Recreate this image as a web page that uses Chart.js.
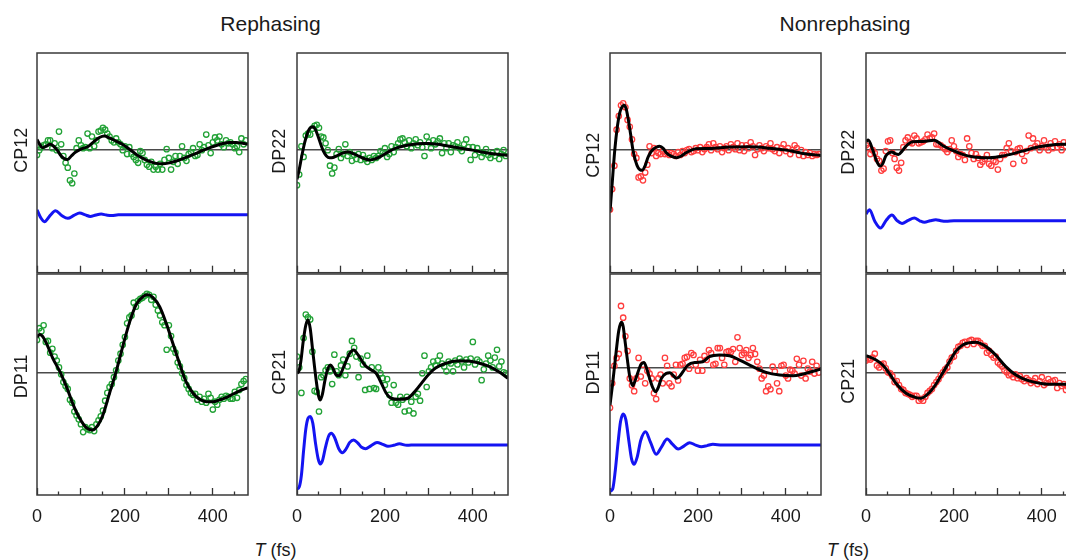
<!DOCTYPE html>
<html>
<head>
<meta charset="utf-8">
<title>Rephasing / Nonrephasing beating signals</title>
<script src="https://cdn.jsdelivr.net/npm/chart.js@4.4.1/dist/chart.umd.min.js"></script>
<style>
  html, body { margin: 0; padding: 0; width: 1066px; height: 560px; overflow: hidden; background: #fff; }
  #stage { position: relative; width: 1066px; height: 560px; overflow: hidden;
           font-family: 'Liberation Sans', Arial, Helvetica, sans-serif; color: #1a1a1a; }
  #stage canvas { position: absolute; }
  .heading { position: absolute; font-size: 21px; line-height: 21px; white-space: nowrap; transform: translateX(-50%); }
  .xtitle  { position: absolute; font-size: 18px; line-height: 18px; white-space: nowrap; transform: translateX(-50%); }
</style>
</head>
<body>
<div id="stage">
  <div class="heading" style="left:270.5px; top:13px;">Rephasing</div>
  <div class="heading" style="left:845px; top:13px;">Nonrephasing</div>
  <div class="xtitle" style="left:275.5px; top:541px;"><i>T</i> (fs)</div>
  <div class="xtitle" style="left:848px; top:541px;"><i>T</i> (fs)</div>
</div>
<script>
// ---- waiting times (fs) of the measured points ----
const T_DATA = [
  0, 5, 10, 15, 20, 25, 30, 35, 40, 45,
  50, 55, 60, 65, 70, 75, 80, 85, 90, 95,
  100, 105, 110, 115, 120, 125, 130, 135, 140, 145,
  150, 155, 160, 165, 170, 175, 180, 185, 190, 195,
  200, 205, 210, 215, 220, 225, 230, 235, 240, 245,
  250, 255, 260, 265, 270, 275, 280, 285, 290, 295,
  300, 305, 310, 315, 320, 325, 330, 335, 340, 345,
  350, 355, 360, 365, 370, 375, 380, 385, 390, 395,
  400, 405, 410, 415, 420, 425, 430, 435, 440, 445,
  450, 455, 460, 465, 470, 475
];

// ---- measured amplitudes (normalised) ----
const repCP12Data = [
  -0.05, 0.00, 0.03, 0.05, 0.06, 0.10, 0.10, 0.02, 0.07, 0.00,
  0.19, 0.06, -0.06, -0.13, -0.18, -0.31, -0.34, -0.24, 0.02, 0.10,
  0.05, 0.02, 0.03, 0.17, 0.02, 0.14, 0.04, 0.10, 0.19, 0.20,
  0.23, 0.21, 0.17, 0.14, 0.10, 0.08, 0.12, 0.08, 0.06, 0.00,
  0.04, -0.04, 0.03, -0.04, -0.07, -0.10, -0.13, -0.01, -0.03, -0.10,
  -0.15, -0.17, -0.12, -0.20, -0.17, -0.20, -0.14, -0.20, -0.10, 0.01,
  -0.08, -0.20, -0.12, -0.06, -0.14, -0.06, 0.04, -0.08, -0.11, -0.04,
  -0.02, 0.02, -0.06, -0.05, 0.06, 0.00, 0.03, 0.16, 0.05, -0.03,
  0.08, 0.13, 0.10, 0.14, 0.06, 0.03, 0.10, 0.07, 0.08, 0.06,
  0.02, 0.04, -0.02, 0.12, 0.06, 0.10
];
const repDP22Data = [
  -0.36, -0.25, 0.04, -0.07, 0.15, 0.17, 0.16, 0.22, 0.25, 0.26,
  0.23, 0.14, 0.13, 0.07, 0.00, -0.16, -0.24, -0.18, -0.04, 0.01,
  -0.08, -0.04, 0.06, -0.06, -0.02, -0.11, -0.05, -0.09, -0.04, -0.10,
  -0.05, -0.09, -0.12, -0.08, -0.10, -0.06, -0.08, -0.06, -0.01, -0.03,
  0.02, -0.07, -0.04, 0.04, -0.02, 0.03, 0.07, 0.11, 0.12, 0.08,
  0.04, 0.10, 0.02, 0.07, 0.11, 0.05, 0.08, 0.03, -0.06, 0.14,
  0.08, 0.02, 0.10, 0.06, 0.09, 0.12, -0.03, 0.07, 0.02, 0.07,
  -0.02, 0.05, 0.04, 0.08, 0.02, -0.01, 0.06, 0.11, 0.03, -0.10,
  0.03, -0.05, 0.02, -0.02, -0.07, -0.03, 0.01, -0.05, -0.08, -0.03,
  -0.06, -0.01, -0.09, -0.04, 0.00, -0.06
];
const repDP11Data = [
  0.33, 0.45, 0.42, 0.48, 0.31, 0.32, 0.20, 0.24, 0.16, 0.12,
  0.05, -0.02, -0.10, -0.14, -0.17, -0.28, -0.31, -0.40, -0.44, -0.48,
  -0.53, -0.61, -0.56, -0.58, -0.59, -0.56, -0.60, -0.53, -0.49, -0.45,
  -0.39, -0.29, -0.21, -0.15, -0.12, -0.05, 0.02, 0.12, 0.19, 0.28,
  0.36, 0.50, 0.56, 0.58, 0.71, 0.67, 0.73, 0.75, 0.76, 0.78,
  0.80, 0.79, 0.74, 0.77, 0.69, 0.63, 0.58, 0.51, 0.48, 0.23,
  0.48, 0.37, 0.24, 0.20, 0.10, 0.06, -0.01, -0.06, -0.13, -0.17,
  -0.21, -0.23, -0.22, -0.28, -0.25, -0.30, -0.27, -0.31, -0.22, -0.26,
  -0.38, -0.30, -0.33, -0.28, -0.25, -0.27, -0.24, -0.25, -0.27, -0.27,
  -0.20, -0.26, -0.18, -0.12, -0.09, -0.07
];
const repCP21Data = [
  0.16, 0.05, -0.21, 0.35, 0.59, 0.56, 0.54, 0.21, -0.19, -0.20,
  -0.40, -0.05, -0.03, 0.02, 0.05, 0.01, -0.12, 0.18, 0.01, -0.03,
  0.07, 0.13, -0.03, 0.06, 0.19, 0.32, 0.25, 0.16, -0.05, 0.14,
  0.08, -0.18, 0.17, -0.17, 0.05, -0.16, -0.17, 0.05, -0.01, -0.06,
  -0.13, -0.07, -0.23, -0.31, -0.13, -0.31, -0.33, -0.25, -0.28, -0.40,
  -0.25, -0.39, -0.30, -0.42, -0.25, -0.22, -0.29, -0.01, 0.17, -0.15,
  0.01, 0.05, 0.11, 0.07, 0.12, 0.17, 0.09, 0.06, 0.01, 0.11,
  0.09, 0.01, 0.12, 0.08, 0.14, 0.11, 0.05, 0.13, 0.10, 0.14,
  0.31, 0.08, 0.13, 0.11, -0.08, 0.03, 0.09, 0.17, 0.12, 0.05,
  0.15, 0.23, 0.06, 0.11, 0.00, -0.01
];
const nrCP12Data = [
  -0.61, -0.40, -0.16, 0.21, 0.35, 0.46, 0.48, 0.44, 0.31, 0.24,
  0.11, -0.04, -0.08, -0.28, -0.27, -0.31, -0.23, -0.15, 0.04, -0.03,
  0.02, -0.06, -0.03, -0.04, -0.01, -0.04, -0.03, -0.05, -0.03, -0.04,
  -0.06, -0.02, -0.05, -0.01, -0.03, 0.00, 0.01, -0.02, -0.01, 0.02,
  0.00, 0.03, -0.02, 0.01, 0.03, 0.06, 0.00, 0.07, 0.03, 0.01,
  0.04, -0.02, 0.02, 0.04, 0.00, 0.06, 0.03, 0.01, 0.07, 0.00,
  0.05, -0.01, 0.05, 0.02, 0.08, 0.04, -0.05, 0.01, 0.05, 0.02,
  -0.01, 0.04, 0.02, 0.07, 0.01, -0.01, 0.03, -0.03, 0.02, 0.06,
  -0.01, 0.02, -0.04, 0.00, 0.05, 0.02, -0.05, 0.00, -0.06, -0.02,
  -0.05, -0.03, -0.06, -0.04, -0.05, -0.04
];
const nrDP22Data = [
  0.05, 0.02, -0.04, 0.00, -0.03, -0.09, -0.11, -0.21, -0.19, -0.01,
  0.09, 0.10, -0.03, -0.09, -0.18, -0.21, -0.13, 0.03, 0.10, 0.13,
  0.08, 0.07, 0.15, 0.12, 0.07, 0.08, 0.09, 0.11, 0.16, 0.12,
  0.13, 0.17, 0.06, 0.06, 0.05, 0.03, 0.01, -0.02, 0.01, 0.10,
  0.04, -0.01, -0.07, -0.04, -0.05, -0.10, 0.12, 0.04, -0.03, -0.09,
  -0.04, -0.08, -0.15, -0.12, -0.09, -0.05, -0.14, -0.16, -0.11, -0.12,
  -0.20, -0.09, -0.05, -0.05, 0.02, 0.07, -0.01, -0.14, -0.02, 0.01,
  0.02, -0.04, -0.11, -0.01, 0.15, 0.02, 0.12, 0.04, 0.07, 0.00,
  0.04, 0.10, 0.03, 0.00, 0.07, 0.02, 0.09, 0.03, 0.06, 0.00,
  0.08, 0.04, 0.07, 0.05, 0.03, 0.06
];
const nrDP11Data = [
  -0.41, -0.16, 0.02, 0.10, 0.14, 0.63, 0.51, 0.32, 0.17, -0.11,
  -0.18, -0.24, -0.11, 0.10, -0.09, 0.03, -0.16, -0.03, -0.06, -0.11,
  -0.26, -0.32, -0.11, -0.07, -0.16, 0.10, 0.02, -0.16, -0.19, -0.07,
  0.03, -0.13, 0.03, 0.04, 0.10, 0.11, -0.01, 0.15, 0.13, 0.03,
  -0.03, 0.08, -0.03, 0.12, 0.08, 0.18, 0.15, 0.03, 0.04, 0.20,
  0.20, 0.10, 0.03, 0.16, 0.17, 0.16, 0.19, 0.06, 0.31, 0.20,
  0.13, 0.15, 0.18, 0.10, 0.13, 0.20, 0.14, 0.06, -0.01, -0.11,
  -0.08, -0.24, -0.19, -0.22, 0.01, -0.04, -0.16, -0.24, 0.02, 0.03,
  -0.08, -0.11, -0.02, -0.03, -0.06, 0.09, 0.03, -0.08, 0.07, -0.11,
  -0.01, -0.04, 0.06, -0.06, 0.02, -0.05
];
const nrCP21Data = [
  0.12, 0.14, 0.13, 0.15, 0.19, 0.07, 0.05, 0.08, 0.09, 0.04,
  0.00, -0.01, -0.04, -0.10, -0.09, -0.13, -0.17, -0.18, -0.21, -0.22,
  -0.23, -0.25, -0.24, -0.24, -0.29, -0.27, -0.29, -0.25, -0.21, -0.19,
  -0.17, -0.13, -0.10, -0.07, -0.03, 0.00, 0.03, 0.05, 0.11, 0.15,
  0.16, 0.22, 0.26, 0.27, 0.30, 0.31, 0.28, 0.32, 0.33, 0.29,
  0.32, 0.32, 0.30, 0.27, 0.27, 0.20, 0.22, 0.18, 0.15, 0.16,
  0.10, 0.08, 0.06, 0.02, 0.00, -0.03, -0.02, -0.05, -0.02, -0.06,
  -0.04, -0.07, -0.09, -0.06, -0.08, -0.11, -0.09, -0.06, -0.12, -0.09,
  -0.05, -0.13, -0.11, -0.07, -0.10, -0.09, -0.08, -0.16, -0.11, -0.14,
  -0.12, -0.18, -0.15, -0.11, -0.13, -0.12
];

// ---- fitted curves, [T, amplitude] knots ----
const repCP12Fit = [[0,0.11],[6,0.06],[13,0.025],[21,0.04],[30,0.06],[38,0.04],[46,0.0],[55,-0.06],[63,-0.09],[70,-0.095],[78,-0.06],[88,-0.02],[100,0.01],[115,0.035],[130,0.09],[142,0.13],[153,0.145],[165,0.125],[180,0.092],[195,0.058],[211,0.007],[226,-0.044],[241,-0.085],[256,-0.116],[271,-0.136],[286,-0.14],[302,-0.13],[317,-0.112],[332,-0.088],[347,-0.061],[362,-0.034],[377,-0.003],[392,0.024],[408,0.048],[423,0.068],[438,0.078],[453,0.078],[468,0.071],[480,0.061]];
const repDP22Fit = [[0,-0.30],[5,-0.20],[10,-0.08],[15,0.03],[20,0.12],[26,0.20],[32,0.235],[37,0.24],[42,0.21],[48,0.14],[54,0.06],[60,-0.01],[67,-0.06],[74,-0.078],[82,-0.075],[92,-0.055],[104,-0.03],[116,-0.02],[128,-0.035],[142,-0.065],[155,-0.09],[165,-0.10],[178,-0.09],[192,-0.06],[207,-0.02],[225,0.02],[245,0.045],[265,0.06],[285,0.068],[300,0.068],[320,0.06],[340,0.045],[360,0.03],[380,0.015],[400,0.0],[420,-0.02],[440,-0.035],[460,-0.045],[480,-0.054]];
const repDP11Fit = [[0,0.36],[6,0.385],[12,0.37],[21,0.30],[36,0.143],[52,0.007],[67,-0.146],[82,-0.327],[97,-0.47],[112,-0.565],[126,-0.59],[139,-0.537],[150,-0.435],[165,-0.214],[180,0.007],[195,0.262],[211,0.517],[226,0.694],[241,0.772],[252,0.79],[264,0.762],[279,0.67],[294,0.50],[309,0.296],[324,0.092],[339,-0.095],[355,-0.214],[370,-0.276],[385,-0.30],[400,-0.30],[415,-0.282],[430,-0.259],[445,-0.224],[461,-0.19],[480,-0.156]];
const repCP21Fit = [[0,-0.01],[5,0.02],[9,0.12],[14,0.31],[20,0.48],[25,0.534],[30,0.45],[36,0.21],[44,-0.095],[49,-0.24],[53,-0.282],[58,-0.22],[63,-0.095],[69,0.02],[76,0.075],[82,0.04],[89,-0.027],[96,-0.034],[102,0.01],[108,0.075],[120,0.194],[129,0.228],[139,0.177],[154,0.075],[169,0.024],[180,-0.01],[192,-0.112],[203,-0.214],[214,-0.265],[233,-0.276],[252,-0.265],[271,-0.18],[286,-0.095],[302,-0.01],[317,0.048],[339,0.092],[362,0.116],[389,0.116],[415,0.092],[438,0.058],[461,0.0],[480,-0.061]];
const nrCP12Fit = [[0,-0.63],[4,-0.40],[11,0.007],[17,0.25],[22,0.38],[27,0.44],[32,0.46],[37,0.42],[41,0.33],[47,0.16],[52,0.007],[58,-0.11],[64,-0.18],[73,-0.207],[80,-0.16],[86,-0.078],[92,-0.025],[98,0.007],[105,0.03],[113,0.041],[121,0.02],[128,-0.027],[140,-0.065],[151,-0.078],[162,-0.06],[173,-0.027],[185,0.0],[196,0.014],[226,0.017],[272,0.031],[317,0.034],[363,0.02],[401,0.0],[439,-0.034],[480,-0.055]];
const nrDP22Fit = [[0,0.09],[5,0.105],[15,0.007],[24,-0.11],[32,-0.163],[38,-0.14],[45,-0.06],[52,-0.03],[59,-0.02],[66,-0.035],[74,-0.044],[82,-0.01],[91,0.04],[106,0.085],[121,0.088],[136,0.092],[155,0.102],[174,0.048],[197,-0.003],[220,-0.044],[242,-0.068],[280,-0.078],[318,-0.054],[356,-0.01],[394,0.034],[432,0.058],[455,0.061],[480,0.062]];
const nrDP11Fit = [[0,-0.381],[5,-0.20],[10,0.0],[14,0.163],[20,0.38],[26,0.463],[30,0.42],[33,0.316],[39,0.10],[45,-0.092],[52,-0.184],[58,-0.12],[64,-0.041],[70,0.03],[77,0.054],[83,0.0],[90,-0.109],[97,-0.2],[104,-0.245],[110,-0.2],[117,-0.109],[128,-0.058],[136,-0.052],[144,-0.08],[151,-0.109],[158,-0.09],[166,-0.041],[177,0.027],[196,0.054],[211,0.061],[226,0.112],[249,0.129],[272,0.122],[295,0.078],[325,0.01],[355,-0.048],[386,-0.075],[416,-0.082],[439,-0.065],[480,-0.014]];
const nrCP21Fit = [[0,0.17],[23,0.126],[38,0.075],[53,-0.01],[68,-0.112],[91,-0.214],[114,-0.258],[125,-0.265],[144,-0.207],[159,-0.122],[174,-0.01],[189,0.102],[205,0.218],[220,0.279],[250,0.306],[273,0.262],[295,0.177],[318,0.058],[341,-0.027],[371,-0.088],[402,-0.116],[432,-0.122],[455,-0.122],[480,-0.12]];

// ---- simulated oscillatory components (drawn with their baseline offset) ----
const repCP12Sim = [[0,-0.612],[8,-0.69],[17,-0.735],[30,-0.67],[42,-0.622],[56,-0.67],[70,-0.70],[84,-0.67],[97,-0.646],[110,-0.665],[121,-0.68],[134,-0.665],[146,-0.656],[158,-0.666],[170,-0.672],[185,-0.663],[480,-0.663]];
const repCP21Sim = [[0,-1.19],[5,-1.17],[10,-1.05],[15,-0.80],[20,-0.58],[25,-0.47],[30,-0.452],[36,-0.52],[42,-0.72],[48,-0.88],[53,-0.935],[58,-0.90],[65,-0.76],[72,-0.65],[78,-0.622],[85,-0.66],[95,-0.78],[103,-0.82],[112,-0.78],[120,-0.715],[129,-0.69],[138,-0.72],[147,-0.765],[156,-0.779],[168,-0.75],[182,-0.717],[195,-0.735],[207,-0.755],[220,-0.745],[233,-0.73],[250,-0.745],[270,-0.741],[480,-0.741]];
const nrDP22Sim = [[0,-0.656],[8,-0.612],[20,-0.73],[33,-0.80],[46,-0.72],[59,-0.667],[70,-0.72],[82,-0.752],[96,-0.72],[110,-0.697],[122,-0.725],[133,-0.741],[146,-0.725],[159,-0.714],[170,-0.725],[182,-0.731],[200,-0.724],[480,-0.724]];
const nrDP11Sim = [[0,-1.26],[6,-1.24],[12,-1.05],[18,-0.78],[24,-0.55],[30,-0.473],[36,-0.53],[43,-0.75],[49,-0.93],[55,-0.986],[62,-0.91],[70,-0.74],[81,-0.653],[92,-0.76],[105,-0.884],[117,-0.81],[130,-0.728],[142,-0.78],[155,-0.83],[168,-0.80],[181,-0.765],[195,-0.79],[208,-0.806],[221,-0.795],[234,-0.782],[255,-0.79],[480,-0.789]];

// ---- x-axis ticks ----
const MAJOR_TICKS = [0, 100, 200, 300, 400];
const MINOR_TICKS = [50, 150, 250, 350, 450];
const LABELLED_TICKS = [0, 200, 400];

// ---- styling / layout ----
const GREEN = '#22a236';
const RED = '#ff3d3d';
const BLUE = '#1414f2';
const FONT = "'Liberation Sans', Arial, Helvetica, sans-serif";
const COL_X = [37, 297, 610, 866];
const ROW_Y = [53, 274];
const PLOT_W = 211, PLOT_H = 221, AXIS_W = 36, PAD = 6;

const PANELS = [
  { label: 'CP12', col: 0, row: 0, pts: repCP12Data, fit: repCP12Fit, sim: repCP12Sim, color: GREEN, yMin: -1.258, yMax: 0.997, shift: 0, gap: 15 },
  { label: 'DP22', col: 1, row: 0, pts: repDP22Data, fit: repDP22Fit, sim: null,       color: GREEN, yMin: -1.258, yMax: 0.997, shift: 1, gap: 17 },
  { label: 'DP11', col: 0, row: 1, pts: repDP11Data, fit: repDP11Fit, sim: null,       color: GREEN, yMin: -1.252, yMax: 1.003, shift: 4, gap: 15 },
  { label: 'CP21', col: 1, row: 1, pts: repCP21Data, fit: repCP21Fit, sim: repCP21Sim, color: GREEN, yMin: -1.252, yMax: 1.003, shift: 0, gap: 17 },
  { label: 'CP12', col: 2, row: 0, pts: nrCP12Data,  fit: nrCP12Fit,  sim: null,       color: RED,   yMin: -1.258, yMax: 0.997, shift: 5, gap: 16 },
  { label: 'DP22', col: 3, row: 0, pts: nrDP22Data,  fit: nrDP22Fit,  sim: nrDP22Sim,  color: RED,   yMin: -1.258, yMax: 0.997, shift: 2, gap: 17 },
  { label: 'DP11', col: 2, row: 1, pts: nrDP11Data,  fit: nrDP11Fit,  sim: nrDP11Sim,  color: RED,   yMin: -1.299, yMax: 0.956, shift: 5, gap: 16 },
  { label: 'CP21', col: 3, row: 1, pts: nrCP21Data,  fit: nrCP21Fit,  sim: null,       color: RED,   yMin: -1.252, yMax: 1.003, shift: 9, gap: 17 }
];

Chart.defaults.font.family = FONT;
Chart.defaults.color = '#1a1a1a';

// Frame around the plot area plus the rotated panel name next to the zero line.
const panelDecor = {
  id: 'panelDecor',
  afterDraw(chart, args, opts) {
    const { ctx, chartArea: a } = chart;
    ctx.save();
    ctx.strokeStyle = '#3a3a3a';
    ctx.lineWidth = 1.5;
    ctx.strokeRect(a.left, a.top, a.right - a.left, a.bottom - a.top);
    const y = chart.scales.y.getPixelForValue(0) + opts.shift;
    ctx.translate(a.left - opts.gap, y);
    ctx.rotate(-Math.PI / 2);
    ctx.font = '18px ' + FONT;
    ctx.fillStyle = '#1a1a1a';
    ctx.textAlign = 'center';
    ctx.textBaseline = 'middle';
    ctx.fillText(opts.text, 0, 0);
    ctx.restore();
  }
};

const stage = document.getElementById('stage');

PANELS.forEach(p => {
  const bottomRow = p.row === 1;
  const axisH = bottomRow ? 44 : 4;
  const canvas = document.createElement('canvas');
  canvas.width = AXIS_W + PLOT_W + PAD;
  canvas.height = PAD + PLOT_H + axisH;
  canvas.style.left = (COL_X[p.col] - AXIS_W) + 'px';
  canvas.style.top = (ROW_Y[p.row] - PAD) + 'px';
  stage.appendChild(canvas);

  const datasets = [{
    data: p.fit.map(([x, y]) => ({ x, y })),
    borderColor: '#000', borderWidth: 3, pointRadius: 0,
    cubicInterpolationMode: 'monotone', order: 0
  }];
  if (p.sim) {
    datasets.push({
      data: p.sim.map(([x, y]) => ({ x, y })),
      borderColor: BLUE, borderWidth: 3, pointRadius: 0,
      cubicInterpolationMode: 'monotone', order: 1
    });
  }
  datasets.push({
    data: T_DATA.map((t, i) => ({ x: t, y: p.pts[i] })),
    showLine: false, pointRadius: 2.7, pointBorderWidth: 1.3,
    pointBorderColor: p.color, pointBackgroundColor: 'rgba(0,0,0,0)',
    borderColor: p.color, order: 2
  });

  new Chart(canvas, {
    type: 'line',
    data: { datasets },
    plugins: [panelDecor],
    options: {
      responsive: false, devicePixelRatio: 1, animation: false, events: [],
      layout: { padding: { top: PAD, right: PAD, left: 0, bottom: 0 } },
      plugins: {
        legend: { display: false }, tooltip: { enabled: false },
        panelDecor: { text: p.label, shift: p.shift, gap: p.gap }
      },
      scales: {
        x: {
          type: 'linear', position: 'bottom', min: 0, max: 480, weight: 1,
          afterBuildTicks: s => { s.ticks = MAJOR_TICKS.map(v => ({ value: v })); },
          afterFit: s => { s.height = axisH; },
          border: { display: false },
          grid: { drawOnChartArea: false, drawTicks: true, tickLength: -7, tickColor: '#333', tickWidth: 1.3 },
          ticks: {
            display: bottomRow, autoSkip: false, maxRotation: 0, padding: 18,
            font: { size: 18 }, color: '#1a1a1a',
            callback: v => LABELLED_TICKS.includes(v) ? String(v) : ''
          }
        },
        xMinor: {
          type: 'linear', position: 'bottom', min: 0, max: 480, weight: 0,
          afterBuildTicks: s => { s.ticks = MINOR_TICKS.map(v => ({ value: v })); },
          afterFit: s => { s.height = 0; },
          border: { display: false },
          grid: { drawOnChartArea: false, drawTicks: true, tickLength: -3.5, tickColor: '#333', tickWidth: 1.3 },
          ticks: { display: false }
        },
        y: {
          type: 'linear', min: p.yMin, max: p.yMax,
          afterBuildTicks: s => { s.ticks = [{ value: 0 }]; },
          afterFit: s => { s.width = AXIS_W; },
          border: { display: false },
          grid: { drawTicks: false, color: '#4a4a4a', lineWidth: 1.5 },
          ticks: { display: false }
        }
      }
    }
  });
});
</script>
</body>
</html>
